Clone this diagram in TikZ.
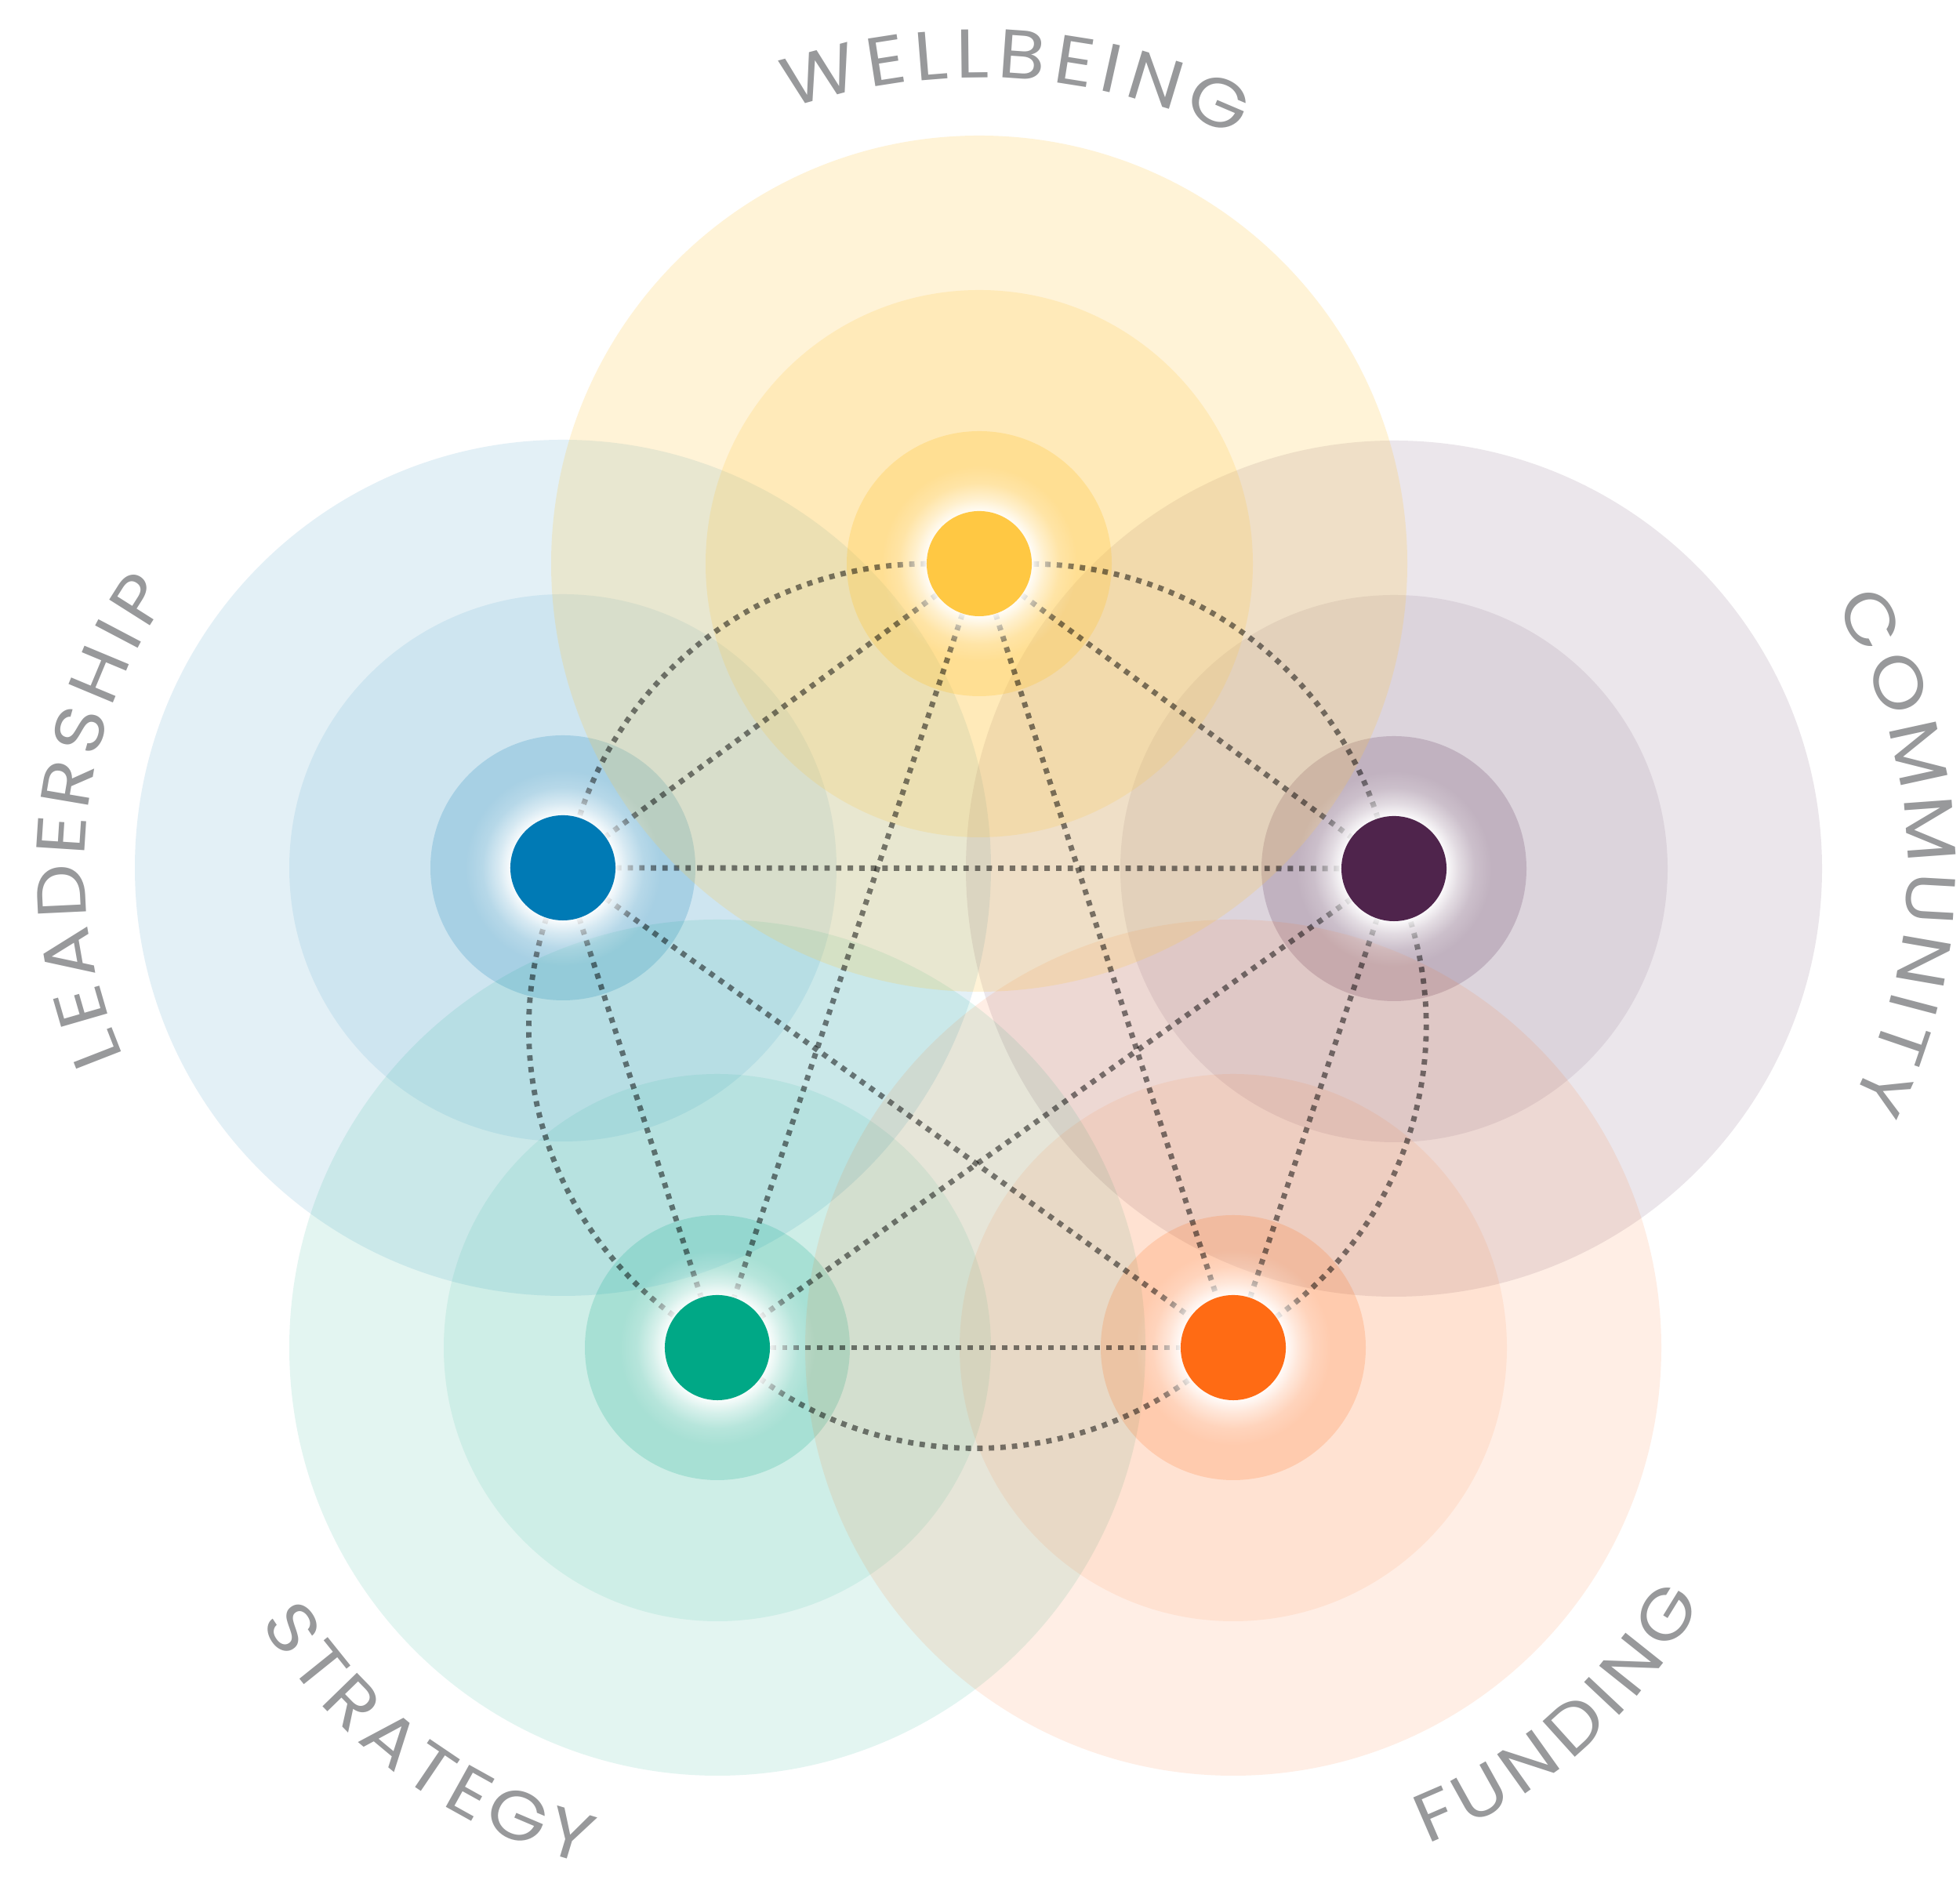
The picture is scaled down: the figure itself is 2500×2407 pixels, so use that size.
\documentclass[tikz,border=0pt]{standalone}
\usepackage{fontspec}
\newfontfamily\lblfamily{Poppins}[FakeStretch=1.12]
\usetikzlibrary{decorations.text,fadings}
\definecolor{cyel}{HTML}{FFC843}
\definecolor{cblu}{HTML}{007AB5}
\definecolor{cpur}{HTML}{4F244C}
\definecolor{cgrn}{HTML}{00A886}
\definecolor{corg}{HTML}{FF6B14}
\definecolor{lblgray}{HTML}{98999B}
\pgfdeclarelayer{paper}\pgfdeclarelayer{rings}\pgfdeclarelayer{links}\pgfdeclarelayer{halo}
\pgfsetlayers{paper,rings,links,halo,main}
\pgfdeclareradialshading{haloshade}{\pgfpointorigin}{color(0bp)=(white); color(13.4bp)=(white!92!black); color(16.5bp)=(white!55!black); color(20.5bp)=(white!18!black); color(25bp)=(black); color(50bp)=(black)}
\pgfdeclarefading{halofade}{\pgfuseshading{haloshade}}
\newcommand\lblfont{\fontsize{25}{30}\selectfont\lblfamily\color{lblgray}}
\begin{document}
\begin{tikzpicture}[x=0.01cm,y=0.01cm,
  dotnode/.style={circle, minimum size=1.34cm, inner sep=0pt, draw=none, fill=#1},
  conn/.style={draw=black, draw opacity=0.5, line width=1.95pt, dash pattern=on 1.95pt off 2.25pt},
  arcconn/.style={conn, bend right=36, looseness=0.94},
  lbl/.style={decorate, decoration={text along path, text align={fit to path}, text={|\lblfont|#1}}}
]
\useasboundingbox (0,0) rectangle (2500,2407);
\begin{pgfonlayer}{paper}
\fill[white] (0,0) rectangle (2500,2407);
\end{pgfonlayer}

\node[dotnode=cyel] (Y) at (1249,1688) {};
\node[dotnode=cblu] (B) at (718,1300) {};
\node[dotnode=cpur] (P) at (1778,1299) {};
\node[dotnode=cgrn] (G) at (915,688) {};
\node[dotnode=corg] (O) at (1573,688) {};

\begin{pgfonlayer}{rings}
\foreach \n/\c/\a/\b/\d in {B/cblu/0.11/0.09/0.19, P/cpur/0.11/0.09/0.19, G/cgrn/0.11/0.09/0.19, O/corg/0.11/0.09/0.19, Y/cyel/0.21/0.20/0.32}{
  \fill[\c, fill opacity=\a] (\n.center) circle[radius=546];
  \fill[\c, fill opacity=\b] (\n.center) circle[radius=349];
  \fill[\c, fill opacity=\d] (\n.center) circle[radius=169];
}
\end{pgfonlayer}

\begin{pgfonlayer}{links}
\draw[conn] (Y) -- (B);
\draw[conn] (Y) -- (P);
\draw[conn] (Y) -- (G);
\draw[conn] (Y) -- (O);
\draw[conn] (B) -- (P);
\draw[conn] (B) -- (G);
\draw[conn] (B) -- (O);
\draw[conn] (P) -- (G);
\draw[conn] (P) -- (O);
\draw[conn] (G) -- (O);
\draw[conn] (Y) to[arcconn] (B);
\draw[conn] (B) to[arcconn] (G);
\draw[conn] (G) to[arcconn] (O);
\draw[conn] (O) to[arcconn] (P);
\draw[conn] (P) to[arcconn] (Y);
\end{pgfonlayer}

\begin{pgfonlayer}{halo}
\foreach \n in {Y,B,P,G,O}{
  \fill[white, path fading=halofade] (\n.center) circle[radius=125];
}
\end{pgfonlayer}

\coordinate (wc) at ([yshift=-1.3cm]Y.center);
\path[lbl=WELLBEING] ([shift={(wc)}]108.8:750) arc[start angle=108.8, end angle=64, radius=750];
\path[lbl=COMMUNITY] ([shift={(P.center)}]31:655) arc[start angle=31, end angle=-27, radius=655];
\path[lbl=LEADERSHIP] ([shift={(B.center)}]203.3:610) arc[start angle=203.3, end angle=145, radius=610];
\path[lbl=STRATEGY] ([shift={(G.center)}]211:680) arc[start angle=211, end angle=255.7, radius=680];
\path[lbl=FUNDING] ([shift={(O.center)}]-68.7:680) arc[start angle=-68.7, end angle=-28.4, radius=680];
\end{tikzpicture}
\end{document}
